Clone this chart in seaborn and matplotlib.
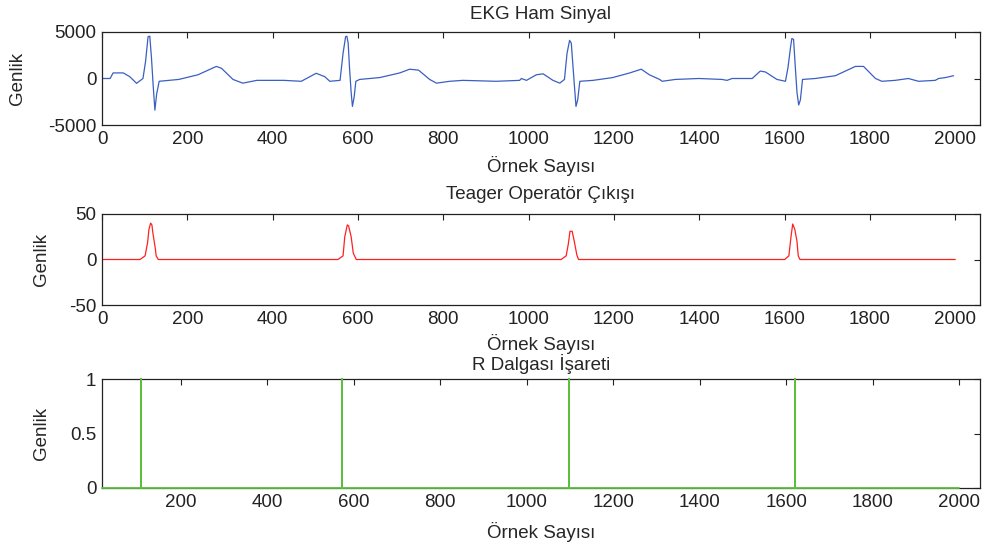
import matplotlib
matplotlib.use("Agg")
import matplotlib.pyplot as plt
import seaborn as sns
import pandas as pd

# ---- data ----
ekg_x = [0, 19, 26, 50, 65, 81, 96, 102, 108, 112, 116, 120, 124, 128, 134, 180, 225, 268, 280,
         307, 330, 363, 426, 467, 502, 522, 534, 558, 565, 571, 574, 577, 580, 584, 587, 591, 595,
         604, 651, 698, 721, 742, 768, 784, 815, 846, 924, 979, 983, 995, 1018, 1034, 1057, 1073,
         1084, 1090, 1096, 1100, 1104, 1108, 1111, 1115, 1120, 1151, 1197, 1237, 1264, 1283, 1307,
         1313, 1344, 1399, 1453, 1465, 1477, 1524, 1543, 1555, 1582, 1602, 1608, 1614, 1617, 1621,
         1625, 1629, 1633, 1637, 1642, 1672, 1719, 1766, 1785, 1813, 1828, 1859, 1890, 1914, 1953,
         1961, 1977, 1996]
ekg_y = [0, 0, 600, 600, 200, -520, 0, 1800, 4500, 4550, 2200, -800, -3400, -1700, -300, -100, 400,
         1300, 1100, -100, -500, -200, -200, -300, 560, 200, -300, -200, 2700, 4500, 4550, 3800, 1270,
         -1500, -3000, -2000, -300, -100, 100, 600, 1000, 900, -100, -500, -300, -200, -300, -200, 0,
         -200, 400, 500, -200, -500, -100, 2700, 4100, 3800, 1300, -1200, -3000, -2300, -300, -200,
         100, 600, 1000, 400, -100, -300, -100, 0, -100, -200, 0, 0, 800, 700, -100, -300, 1200, 3400,
         4300, 4200, 1300, -1500, -2850, -2300, -100, 0, 300, 1300, 1300, 0, -300, -200, 0, -300, -200,
         0, 100, 300]

teager_x = [0, 89, 101, 107, 110, 114, 117, 119, 125, 127, 132, 553, 565, 569, 575, 578, 584, 589,
            596, 1076, 1088, 1093, 1097, 1102, 1107, 1113, 1117, 1600, 1610, 1615, 1619, 1624, 1629,
            1632, 1636, 2000]
teager_y = [0, 0, 4, 19, 33, 40, 38, 30, 12, 4, 0, 0, 4, 25, 38, 37, 25, 7, 0, 0, 4, 17, 31, 31, 20,
            5, 0, 0, 4, 25, 39, 33, 20, 4, 0, 0]

r_peaks = [109, 572, 1097, 1620]
r_start, r_end = 18, 2000

titles = ["EKG Ham Sinyal", "Teager Operatör Çıkışı", "R Dalgası İşareti"]
xlabel = "Örnek Sayısı"
ylabel = "Genlik"

# build R-wave marker table from peaks
rx, ry = [r_start], [0]
for p in r_peaks:
    rx += [p, p, p]
    ry += [0, 1, 0]
rx.append(r_end)
ry.append(0)

df_ekg = pd.DataFrame({"x": ekg_x, "y": ekg_y})
df_teager = pd.DataFrame({"x": teager_x, "y": teager_y})
df_r = pd.DataFrame({"x": rx, "y": ry})

sns.set_style("white")
plt.rcParams["font.family"] = ["Liberation Sans", "DejaVu Sans"]
plt.rcParams["axes.edgecolor"] = "#222222"
plt.rcParams["axes.linewidth"] = 0.9
plt.rcParams["axes.unicode_minus"] = False

fig = plt.figure(figsize=(9.86, 5.47), dpi=100)
W, H = 986, 547

def axes_px(left, right, top, bottom):
    return fig.add_axes([left / W, (H - bottom) / H, (right - left) / W, (bottom - top) / H])

ax1 = axes_px(102, 980, 32, 125)
ax2 = axes_px(102, 980, 214, 305)
ax3 = axes_px(102, 980, 379, 488)

fs = 13.5
sns.lineplot(data=df_ekg, x="x", y="y", ax=ax1, color="#3a5fc0", lw=0.9, sort=False, estimator=None)
sns.lineplot(data=df_teager, x="x", y="y", ax=ax2, color="#ff2020", lw=0.9, sort=False, estimator=None)
sns.lineplot(data=df_r, x="x", y="y", ax=ax3, color="#5cbf3c", lw=1.3, sort=False, estimator=None)

ax1.set_xlim(0, 2058)
ax1.set_ylim(-5000, 5000)
ax1.set_yticks([-5000, 0, 5000])
ax2.set_xlim(0, 2058)
ax2.set_ylim(-50, 50)
ax2.set_yticks([-50, 0, 50])
ax3.set_xlim(18, 2048)
ax3.set_ylim(0, 1)
ax3.set_yticks([0, 0.5, 1])
ax3.set_yticklabels(["0", "0.5", "1"])
ax3.lines[0].set_clip_on(False)
ax3.lines[0].set_zorder(5)

for ax in (ax1, ax2):
    ax.set_xticks(range(0, 2001, 200))
ax3.set_xticks(range(200, 2001, 200))

title_pads = [9.5, 11, 6.5]
xlabel_pads = [6, 4.6, 8]
for ax, t, tp, xp in zip((ax1, ax2, ax3), titles, title_pads, xlabel_pads):
    ax.set_title(t, fontsize=fs, pad=tp)
    ax.set_xlabel(xlabel, fontsize=fs, labelpad=xp)
    ax.set_ylabel(ylabel, fontsize=fs)
    ax.tick_params(direction="in", length=4, width=0.8, top=True, right=True,
                   labelsize=fs, colors="#222222", pad=4)
    for s in ax.spines.values():
        s.set_visible(True)

ax1.yaxis.set_label_coords(-0.086, 0.5)
ax2.yaxis.set_label_coords(-0.059, 0.5)
ax3.yaxis.set_label_coords(-0.059, 0.5)

fig.savefig("out.png", dpi=100)
